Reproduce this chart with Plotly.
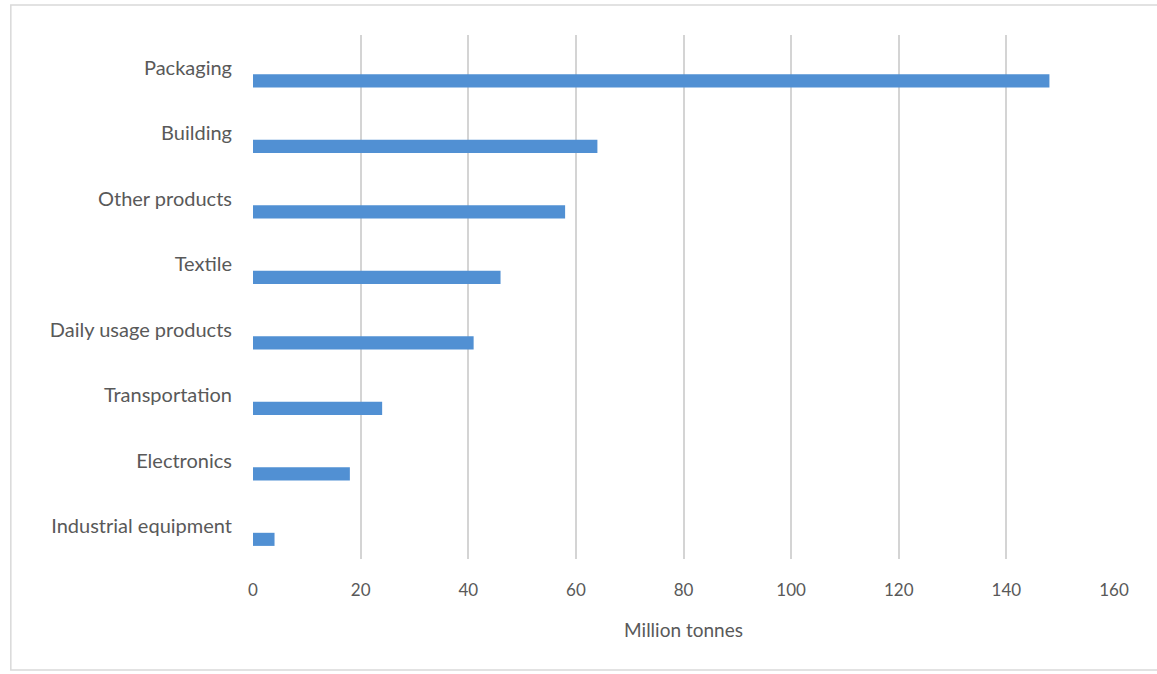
import plotly.graph_objects as go

categories = ["Packaging", "Building", "Other products", "Textile",
              "Daily usage products", "Transportation", "Electronics",
              "Industrial equipment"]
values = [148, 64, 58, 46, 41, 24, 18, 4]
x_ticks = [0, 20, 40, 60, 80, 100, 120, 140, 160]

fig = go.Figure()
fig.add_trace(go.Bar(
    y=categories, x=values, orientation="h",
    marker=dict(color="#5190d3", line=dict(width=0)),
    width=0.2, offset=0.1, showlegend=False,
))

fig.update_layout(
    width=1157, height=674,
    margin=dict(l=253, r=43, t=35, b=115),
    paper_bgcolor="white", plot_bgcolor="white",
    font=dict(family="Lato, Open Sans, sans-serif", color="#595959"),
    xaxis=dict(
        range=[0, 160], tickvals=x_ticks, showgrid=True,
        gridcolor="#d4d4d4", gridwidth=1.6, zeroline=False,
        showline=False, tickfont=dict(size=17, color="#595959"),
        ticklabelstandoff=19,
        title=dict(text="Million tonnes", font=dict(size=19, color="#595959"), standoff=24),
    ),
    yaxis=dict(
        categoryorder="array", categoryarray=categories,
        autorange="reversed", showgrid=False, zeroline=False, showline=False,
        tickfont=dict(size=20, color="#595959"), ticklabelstandoff=20,
    ),
    shapes=[dict(type="rect", xref="paper", yref="paper",
                 x0=-245/871, x1=1.06, y0=-111/524, y1=1 + 30/524,
                 line=dict(color="#d9d9d9", width=1.5))],
)

fig.write_html("out.html")
